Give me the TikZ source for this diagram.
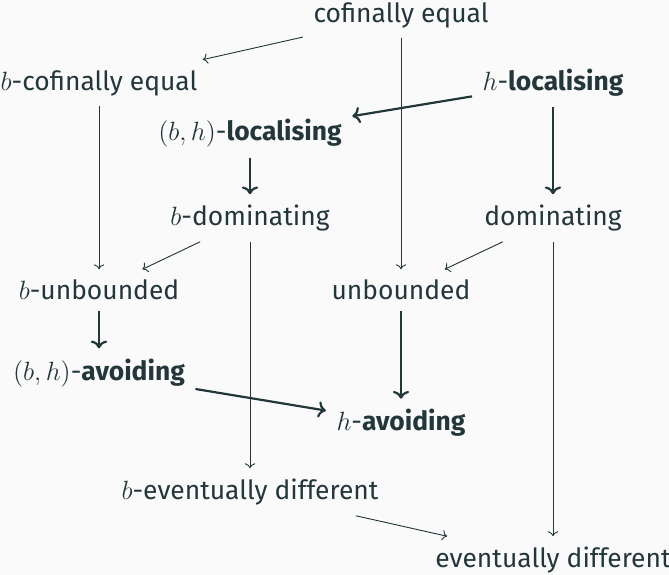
\documentclass[tikz,border=0pt]{standalone}
\usepackage{fontspec}
\setmainfont{Fira Sans}
\usepackage{xcolor}
\definecolor{maintext}{RGB}{35, 55, 59}
\definecolor{pagebg}{RGB}{250, 250, 250}
\usetikzlibrary{arrows.meta}

\begin{document}
\begin{tikzpicture}[
  x=0.545pt, y=-0.545pt,
  prop/.style={text=maintext, font=\fontsize{14.4}{17}\selectfont, inner sep=5.6pt},
  imp/.style={-{To}, line width=0.5pt, draw=maintext},
  strongimp/.style={imp, line width=1.2pt}
]
\fill[pagebg] (0,0) rectangle (669,575);
\useasboundingbox (0,0) rectangle (669,575);

\node[prop] (cofeq) at (401,15) {cofinally equal};
\node[prop] (bcofeq) at (99,83) {$b$-cofinally equal};
\node[prop] (hloc) at (553,83) {$h$-\textbf{localising}};
\node[prop] (bhloc) at (250,133) {$(b,h)$-\textbf{localising}};
\node[prop] (bdom) at (250,218) {$b$-dominating};
\node[prop] (dom) at (553,218) {dominating};
\node[prop] (bunb) at (99,290) {$b$-unbounded};
\node[prop] (unb) at (401,290) {unbounded};
\node[prop] (bhavoid) at (99,373) {$(b,h)$-\textbf{avoiding}};
\node[prop] (havoid) at (401,423) {$h$-\textbf{avoiding}};
\node[prop] (bevdiff) at (250,492) {$b$-eventually different};
\node[prop] (evdiff) at (553,560) {eventually different};

\draw[imp] (cofeq) -- (bcofeq);
\draw[imp] (cofeq) -- (unb);
\draw[imp] (bcofeq) -- (bunb);
\draw[imp] (bdom) -- (bunb);
\draw[imp] (bdom) -- (bevdiff);
\draw[imp] (dom) -- (unb);
\draw[imp] (dom) -- (evdiff);
\draw[imp] (bevdiff) -- (evdiff);

\draw[strongimp] (hloc) -- (bhloc);
\draw[strongimp] (hloc) -- (dom);
\draw[strongimp] (bhloc) -- (bdom);
\draw[strongimp] (bunb) -- (bhavoid);
\draw[strongimp] (unb) -- (havoid);
\draw[strongimp] (bhavoid) -- (havoid);
\end{tikzpicture}
\end{document}
